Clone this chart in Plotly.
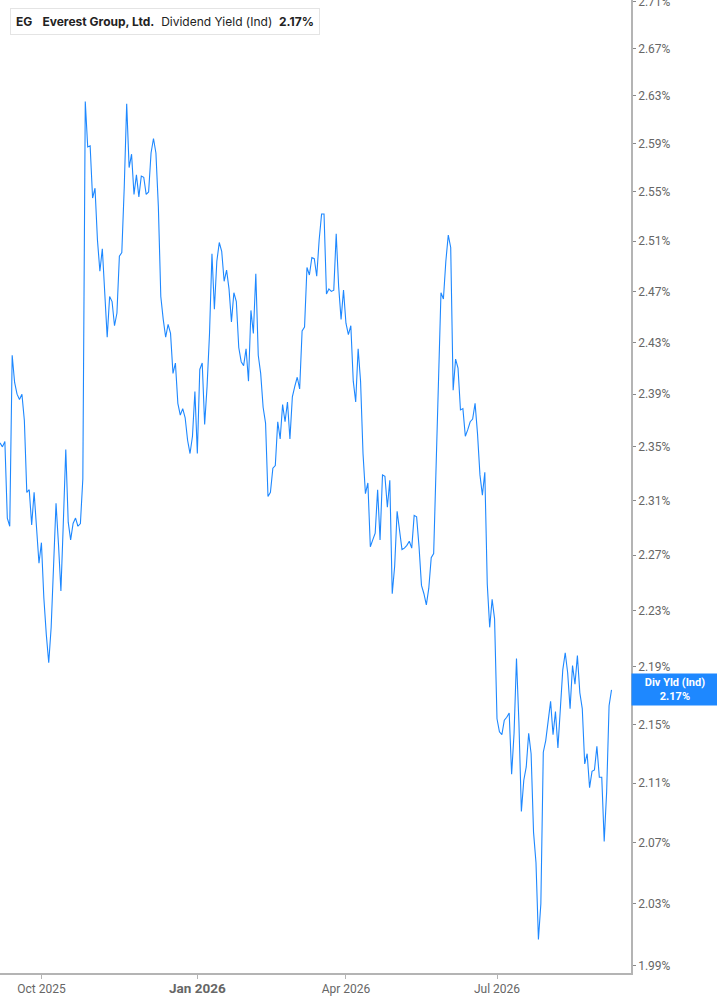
import math
import pandas as pd
import plotly.graph_objects as go

# daily dividend yield (ind), % -- one value per trading day from 2025-09-08
div_yield = [
    2.353, 2.350, 2.354, 2.297, 2.291, 2.420, 2.399, 2.390, 2.386, 2.390,
    2.370, 2.316, 2.318, 2.292, 2.316, 2.286, 2.264, 2.279, 2.239, 2.213,
    2.193, 2.218, 2.267, 2.308, 2.278, 2.244, 2.294, 2.348, 2.294, 2.281,
    2.293, 2.297, 2.291, 2.293, 2.326, 2.625, 2.587, 2.588, 2.545, 2.553,
    2.511, 2.486, 2.504, 2.469, 2.434, 2.466, 2.462, 2.443, 2.453, 2.498,
    2.501, 2.554, 2.623, 2.570, 2.581, 2.548, 2.564, 2.546, 2.563, 2.562,
    2.548, 2.550, 2.582, 2.594, 2.582, 2.538, 2.466, 2.448, 2.434, 2.444,
    2.437, 2.406, 2.414, 2.383, 2.374, 2.379, 2.372, 2.355, 2.345, 2.358,
    2.392, 2.345, 2.409, 2.414, 2.367, 2.396, 2.437, 2.500, 2.456, 2.494,
    2.509, 2.502, 2.478, 2.487, 2.472, 2.446, 2.469, 2.462, 2.426, 2.415,
    2.412, 2.425, 2.400, 2.455, 2.437, 2.484, 2.420, 2.406, 2.380, 2.368,
    2.313, 2.316, 2.334, 2.336, 2.369, 2.356, 2.382, 2.369, 2.384, 2.356,
    2.388, 2.396, 2.403, 2.394, 2.439, 2.442, 2.489, 2.483, 2.497, 2.496,
    2.482, 2.511, 2.532, 2.532, 2.468, 2.472, 2.470, 2.471, 2.516, 2.474,
    2.448, 2.471, 2.445, 2.436, 2.443, 2.400, 2.384, 2.425, 2.400, 2.345,
    2.315, 2.323, 2.276, 2.281, 2.286, 2.318, 2.281, 2.329, 2.328, 2.305,
    2.325, 2.242, 2.262, 2.302, 2.286, 2.274, 2.275, 2.277, 2.280, 2.275,
    2.299, 2.298, 2.276, 2.248, 2.242, 2.234, 2.246, 2.268, 2.271, 2.331,
    2.402, 2.469, 2.464, 2.494, 2.515, 2.505, 2.393, 2.417, 2.410, 2.378,
    2.379, 2.358, 2.363, 2.369, 2.371, 2.383, 2.360, 2.329, 2.314, 2.331,
    2.249, 2.218, 2.238, 2.224, 2.154, 2.145, 2.143, 2.153, 2.155, 2.158,
    2.116, 2.144, 2.196, 2.151, 2.091, 2.112, 2.121, 2.144, 2.130, 2.077,
    2.057, 2.007, 2.030, 2.131, 2.139, 2.151, 2.166, 2.143, 2.159, 2.134,
    2.163, 2.188, 2.200, 2.186, 2.161, 2.191, 2.178, 2.198, 2.172, 2.161,
    2.123, 2.130, 2.107, 2.118, 2.119, 2.135, 2.114, 2.114, 2.071, 2.104,
    2.163, 2.174,
]

market_holidays = [
    "2025-11-27", "2025-12-25", "2026-01-01", "2026-01-19", "2026-02-16",
    "2026-04-03", "2026-05-25", "2026-06-19", "2026-07-03", "2026-09-07",
]

y_ticks = [1.99, 2.03, 2.07, 2.11, 2.15, 2.19, 2.23, 2.27, 2.31, 2.35,
           2.39, 2.43, 2.47, 2.51, 2.55, 2.59, 2.63, 2.67, 2.71]
x_tick_dates = ["2025-10-01", "2026-01-02", "2026-04-01", "2026-07-01"]
x_tick_labels = ["Oct 2025", "<b style='font-size:13.5px'>Jan 2026</b>", "Apr 2026", "Jul 2026"]

last_value = div_yield[-1]

dates = pd.bdate_range("2025-09-08", periods=len(div_yield), freq="C",
                       holidays=market_holidays)

BLUE = "#1e88ff"
AXIS = "#b4b4b4"

fig = go.Figure()
fig.add_trace(go.Scatter(x=dates, y=div_yield, mode="lines",
                         line=dict(color=BLUE, width=1.1),
                         hoverinfo="x+y", showlegend=False))

fig.update_layout(
    width=717, height=1005,
    margin=dict(l=0, r=86, t=0, b=32, autoexpand=False),
    paper_bgcolor="white", plot_bgcolor="white",
    font=dict(family="Roboto, Inter, sans-serif", color="#666666", size=12),
)

fig.update_xaxes(
    range=["2025-09-08", "2026-09-18"],
    rangebreaks=[dict(bounds=["sat", "mon"]), dict(values=market_holidays)],
    tickvals=x_tick_dates, ticktext=x_tick_labels,
    ticks="outside", ticklen=4, tickcolor=AXIS, tickwidth=1,
    showline=True, linecolor=AXIS, linewidth=1.5,
    showgrid=False, zeroline=False,
    tickfont=dict(size=12, color="#666666"),
)

fig.update_yaxes(
    type="log", side="right",
    range=[math.log10(1.9855), math.log10(2.7117)],
    tickvals=y_ticks, ticktext=["%.2f%%" % v for v in y_ticks],
    ticks="outside", ticklen=3, tickcolor="#888888",
    ticklabeloverflow="allow",
    showline=True, linecolor=AXIS, linewidth=1.5,
    showgrid=False, zeroline=False,
    tickfont=dict(size=12, color="#666666"),
)

# header box
fig.add_annotation(
    xref="paper", yref="paper", x=10 / 631, y=1 - 8 / 973,
    xanchor="left", yanchor="top", showarrow=False, align="left",
    text="<b>EG</b>&nbsp;&nbsp;&nbsp;<b>Everest Group, Ltd.</b>&nbsp;&nbsp;Dividend Yield (Ind)&nbsp;&nbsp;<b>%.2f%%</b>" % last_value,
    font=dict(family="Inter, Roboto, sans-serif", size=12, color="#222222"),
    bgcolor="white", bordercolor="#e4e4e4", borderwidth=1, borderpad=5,
)
fig.add_shape(type="rect", xref="paper", yref="paper",
              x0=10 / 631, x1=13 / 631, y0=1 - 33 / 973, y1=1 - 8 / 973,
              fillcolor=BLUE, line=dict(width=0), layer="above")

# last value tag on the axis
fig.add_annotation(
    xref="paper", yref="y", x=1, y=math.log10(last_value),
    xanchor="left", yanchor="middle", showarrow=False, align="center",
    text="<b>Div Yld (Ind)</b><br><b>%.2f%%</b>" % last_value,
    font=dict(family="Roboto, Inter, sans-serif", size=11, color="white"),
    bgcolor=BLUE, width=82, borderpad=2,
)

# page has a default 8px body margin; drop it so the chart sits at the corner
fig.write_html("out.html", config={"displayModeBar": False},
               post_script="document.body.style.margin='0';document.body.style.overflow='hidden';")
